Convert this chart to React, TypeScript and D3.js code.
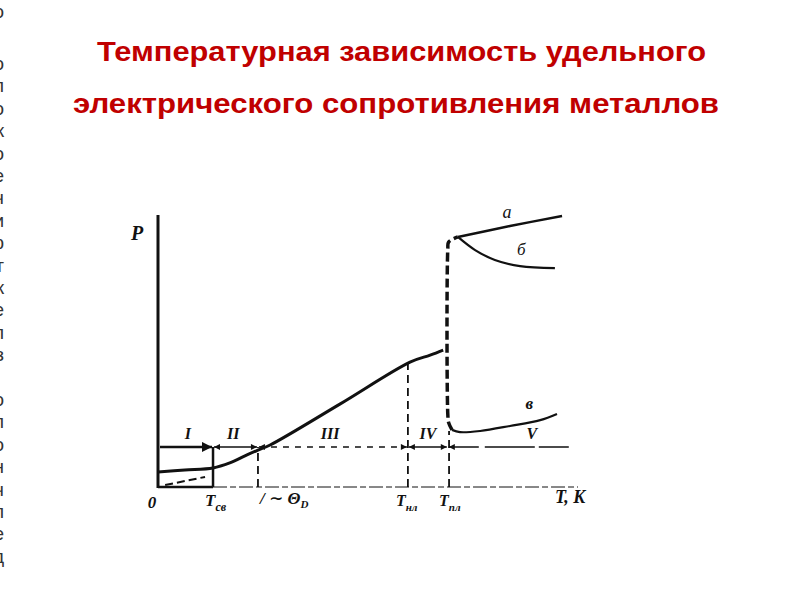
import React from 'react';
import * as d3 from 'd3';

// заголовок слайда
const titleLines = ['Температурная зависимость удельного', 'электрического сопротивления металлов'];

// обрезанные буквы текста у левого края слайда
const edgeLettersTop = ['о', 'п', 'о', 'к', 'о', 'е', 'ч', 'и', 'р', 'т', 'к', 'е', 'л', 'з'];
const edgeLettersBottom = ['о', 'п', 'о', 'н', 'ч', 'л', 'е', 'д'];

// основная кривая ρ(T): области I–IV (T, ρ в условных единицах)
const mainT = [0, 0.64, 1.31, 1.71, 2.07, 2.38, 2.67, 4.33, 6.0, 6.48, 6.79];
const mainRho = [0.54, 0.61, 0.68, 0.86, 1.11, 1.32, 1.5, 2.96, 4.46, 4.71, 4.89];

// скачок при плавлении (штриховая)
const jumpT = [7.0, 6.92, 6.9, 6.9, 6.92, 7.14];
const jumpRho = [2.04, 2.3, 2.6, 8.5, 8.75, 8.93];

// ветви а, б, в
const branchAT = [7.14, 8.38, 9.62];
const branchARho = [8.93, 9.32, 9.68];
const branchBT = [7.14, 7.55, 8.02, 8.62, 9.45];
const branchBRho = [8.93, 8.46, 8.11, 7.89, 7.82];
const branchVT = [7.0, 7.19, 7.67, 8.38, 9.1, 9.5];
const branchVRho = [2.04, 1.96, 2.0, 2.18, 2.39, 2.61];

// границы областей и их подписи
const regionBounds = [0, 1.31, 2.38, 5.95, 6.9, 9.9];
const regionLabels = ['I', 'II', 'III', 'IV', 'V'];
const regionLabelT = [0.71, 1.79, 4.1, 6.43, 8.9];
const regionLevel = 1.43;

// штриховые вертикали: T и высота
const guideT = [1.31, 2.38, 5.95, 6.93];
const guideTop = [1.43, 1.43, 4.6, 2.0];

const width = 800;
const height = 600;

export default function App() {
  const x = d3.scaleLinear().domain([0, 10]).range([158, 578]);
  const y = d3.scaleLinear().domain([0, 10]).range([487, 207]);

  const smooth = d3
    .line<[number, number]>()
    .x((d) => x(d[0]))
    .y((d) => y(d[1]))
    .curve(d3.curveCatmullRom.alpha(0.5));

  const zip = (a: number[], b: number[]) => a.map((v, i) => [v, b[i]] as [number, number]);

  const red = '#c00000';
  const ink = '#111';
  const labelFont = '"Liberation Serif", "DejaVu Serif", serif';

  return (
    <svg width={width} height={height} style={{ position: 'absolute', left: 0, top: 0, background: '#fff' }}>
      <defs>
        <marker id="ah" viewBox="0 0 10 10" refX="10" refY="5" markerWidth="5" markerHeight="4" orient="auto-start-reverse">
          <path d="M0,0 L10,5 L0,10 z" fill={ink} />
        </marker>
      </defs>

      {/* буквы у левого края (обрезаны краем слайда) */}
      <g fontSize={19} fontFamily="Liberation Sans, Arial" fill="#333" textAnchor="end">
        <text x={4} y={18}>
          о
        </text>
        {edgeLettersTop.map((l, i) => (
          <text key={`t${i}`} x={4} y={64 + i * 22.4 + 6}>
            {l}
          </text>
        ))}
        {edgeLettersBottom.map((l, i) => (
          <text key={`b${i}`} x={4} y={400 + i * 22.4 + 6}>
            {l}
          </text>
        ))}
      </g>

      {/* заголовок */}
      <text x={401.5} y={61} textAnchor="middle" fontSize={28} fontWeight="bold" fontFamily="Liberation Sans, Arial" fill={red} textLength={609} lengthAdjust="spacingAndGlyphs">
        {titleLines[0]}
      </text>
      <text x={396} y={113} textAnchor="middle" fontSize={28} fontWeight="bold" fontFamily="Liberation Sans, Arial" fill={red} textLength={646} lengthAdjust="spacingAndGlyphs">
        {titleLines[1]}
      </text>

      {/* оси */}
      <line x1={x(0)} x2={x(0)} y1={y(0) + 1} y2={y(9.71)} stroke={ink} strokeWidth={3} />
      <line x1={x(0)} x2={x(regionBounds[1])} y1={y(0)} y2={y(0)} stroke={ink} strokeWidth={2.5} />
      <line x1={x(regionBounds[1])} x2={x(10)} y1={y(0)} y2={y(0)} stroke={ink} strokeWidth={1} strokeDasharray="14 3 6 3" />

      {/* небольшая штриховая у начала координат */}
      <path d={smooth(zip([0.17, 1.12], [0.07, 0.36])) as string} stroke={ink} strokeWidth={2} fill="none" strokeDasharray="8 4" />

      {/* вертикальные направляющие */}
      {guideT.map((t, i) => (
        <line
          key={`g${i}`}
          x1={x(t)}
          x2={x(t)}
          y1={y(0)}
          y2={y(guideTop[i])}
          stroke={ink}
          strokeWidth={i === 0 ? 2.5 : 1.8}
          strokeDasharray={i === 0 ? undefined : '8 5'}
        />
      ))}

      {/* стрелки областей */}
      {regionLabels.map((lab, i) => (
        <g key={lab}>
          <line
            x1={x(regionBounds[i]) + (i === 0 ? 2 : 1)}
            x2={x(regionBounds[i + 1]) - 1}
            y1={y(regionLevel)}
            y2={y(regionLevel)}
            stroke={ink}
            strokeWidth={i === 0 ? 2.5 : 1.5}
            strokeDasharray={i === 2 ? '6 6' : i === 4 ? '30 6 50 4' : undefined}
            markerStart={i === 0 ? undefined : 'url(#ah)'}
            markerEnd={i === 4 ? undefined : 'url(#ah)'}
          />
          <text
            x={x(regionLabelT[i])}
            y={y(regionLevel) - 8}
            textAnchor="middle"
            fontSize={16}
            fontStyle="italic"
            fontWeight="bold"
            fontFamily={labelFont}
            fill={ink}
          >
            {lab}
          </text>
        </g>
      ))}

      {/* основная кривая */}
      <path d={smooth(zip(mainT, mainRho)) as string} stroke={ink} strokeWidth={3} fill="none" />
      {/* скачок */}
      <path d={smooth(zip(jumpT, jumpRho)) as string} stroke={ink} strokeWidth={3.5} fill="none" strokeDasharray="9 4" />
      {/* ветви */}
      <path d={smooth(zip(branchAT, branchARho)) as string} stroke={ink} strokeWidth={2.5} fill="none" />
      <path d={smooth(zip(branchBT, branchBRho)) as string} stroke={ink} strokeWidth={2.2} fill="none" />
      <path d={smooth(zip(branchVT, branchVRho)) as string} stroke={ink} strokeWidth={2.2} fill="none" />

      {/* подписи ветвей */}
      <text x={x(8.2)} y={y(9.6)} fontSize={18} fontStyle="italic" fontFamily={labelFont} fill={ink}>
        а
      </text>
      <text x={x(8.55)} y={y(8.3)} fontSize={17} fontStyle="italic" fontFamily={labelFont} fill={ink}>
        б
      </text>
      <text x={x(8.75)} y={y(2.8)} fontSize={17} fontStyle="italic" fontWeight="bold" fontFamily={labelFont} fill={ink}>
        в
      </text>

      {/* подписи осей */}
      <text x={131} y={240} fontSize={20} fontStyle="italic" fontWeight="bold" fontFamily={labelFont} fill={ink}>
        P
      </text>
      <g fontStyle="italic" fontWeight="bold" fontFamily={labelFont} fill={ink}>
        <text x={x(0) - 6} y={508} fontSize={17} textAnchor="middle">
          0
        </text>
        <text x={x(1.31) - 8} y={506} fontSize={17}>
          T<tspan fontSize={12} dy={5}>св</tspan>
        </text>
        <text x={x(2.38) + 2} y={504} fontSize={17}>
          / ∼ Θ<tspan fontSize={11} dy={4}>D</tspan>
        </text>
        <text x={x(5.95) - 12} y={506} fontSize={16}>
          T<tspan fontSize={11} dy={5}>нл</tspan>
        </text>
        <text x={x(6.93) - 10} y={506} fontSize={16}>
          T<tspan fontSize={11} dy={5}>пл</tspan>
        </text>
        <text x={x(9.45)} y={503} fontSize={18}>
          T, K
        </text>
      </g>
    </svg>
  );
}
